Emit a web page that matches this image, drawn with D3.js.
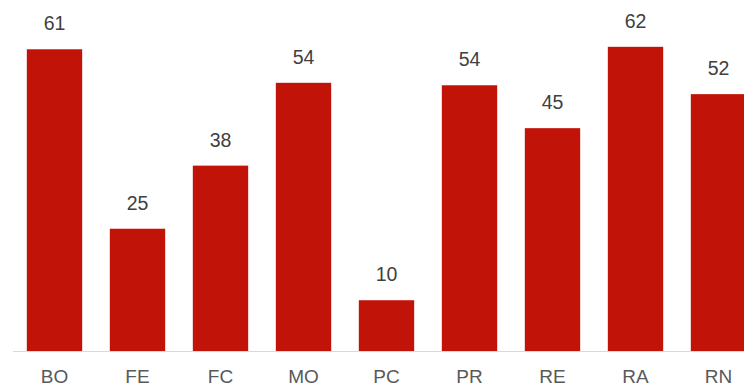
<!DOCTYPE html>
<html>
<head>
<meta charset="utf-8">
<script src="https://cdn.jsdelivr.net/npm/d3@7"></script>
<style>
  html, body { margin: 0; padding: 0; background: #fff; }
  svg { display: block; }
</style>
</head>
<body>
<div id="vis"></div>
<script>
// chart data
var categories = ["BO", "FE", "FC", "MO", "PC", "PR", "RE", "RA", "RN"]
var values = [61.2, 24.8, 37.6, 54.4, 10.3, 53.9, 45.2, 61.7, 52.1]

var width = 744, height = 386
var baseY = 351

var svg = d3.select("#vis")
    .append("svg")
    .attr("width", width)
    .attr("height", height)

var x = d3.scaleBand()
    .domain(categories)
    .range([13, 760])
    .paddingInner(0.333)
    .paddingOuter(0.1665)

var y = d3.scaleLinear()
    .domain([0, 70])
    .range([baseY, baseY - 70 * 4.93])

var data = categories.map(function (c, i) { return { cat: c, val: values[i] } })

// bars
svg.selectAll("rect.bar")
    .data(data)
    .enter()
    .append("rect")
    .attr("class", "bar")
    .attr("x", function (d) { return x(d.cat) })
    .attr("y", function (d) { return y(d.val) })
    .attr("width", x.bandwidth())
    .attr("height", function (d) { return y(0) - y(d.val) })
    .attr("fill", "#c11307")

// baseline
svg.append("line")
    .attr("x1", x.range()[0])
    .attr("x2", x.range()[1])
    .attr("y1", y(0) + 0.5)
    .attr("y2", y(0) + 0.5)
    .attr("stroke", "#d9d9d9")
    .attr("stroke-width", 1)

// value labels
svg.selectAll("text.val")
    .data(data)
    .enter()
    .append("text")
    .attr("class", "val")
    .attr("x", function (d) { return x(d.cat) + x.bandwidth() / 2 })
    .attr("y", function (d) { return y(d.val) - 19 })
    .attr("text-anchor", "middle")
    .style("font-family", "Liberation Sans, Arial, sans-serif")
    .style("font-size", "19.5px")
    .attr("fill", "#404040")
    .text(function (d) { return d3.format(".0f")(d.val) })

// category axis
var xAxis = svg.append("g")
    .attr("transform", "translate(0," + y(0) + ")")
    .call(d3.axisBottom(x).tickSize(0).tickPadding(0))

xAxis.select("path.domain").remove()

xAxis.selectAll("text")
    .attr("y", 32)
    .attr("dy", 0)
    .style("font-family", "Liberation Sans, Arial, sans-serif")
    .style("font-size", "19px")
    .attr("fill", "#595959")
</script>
</body>
</html>
